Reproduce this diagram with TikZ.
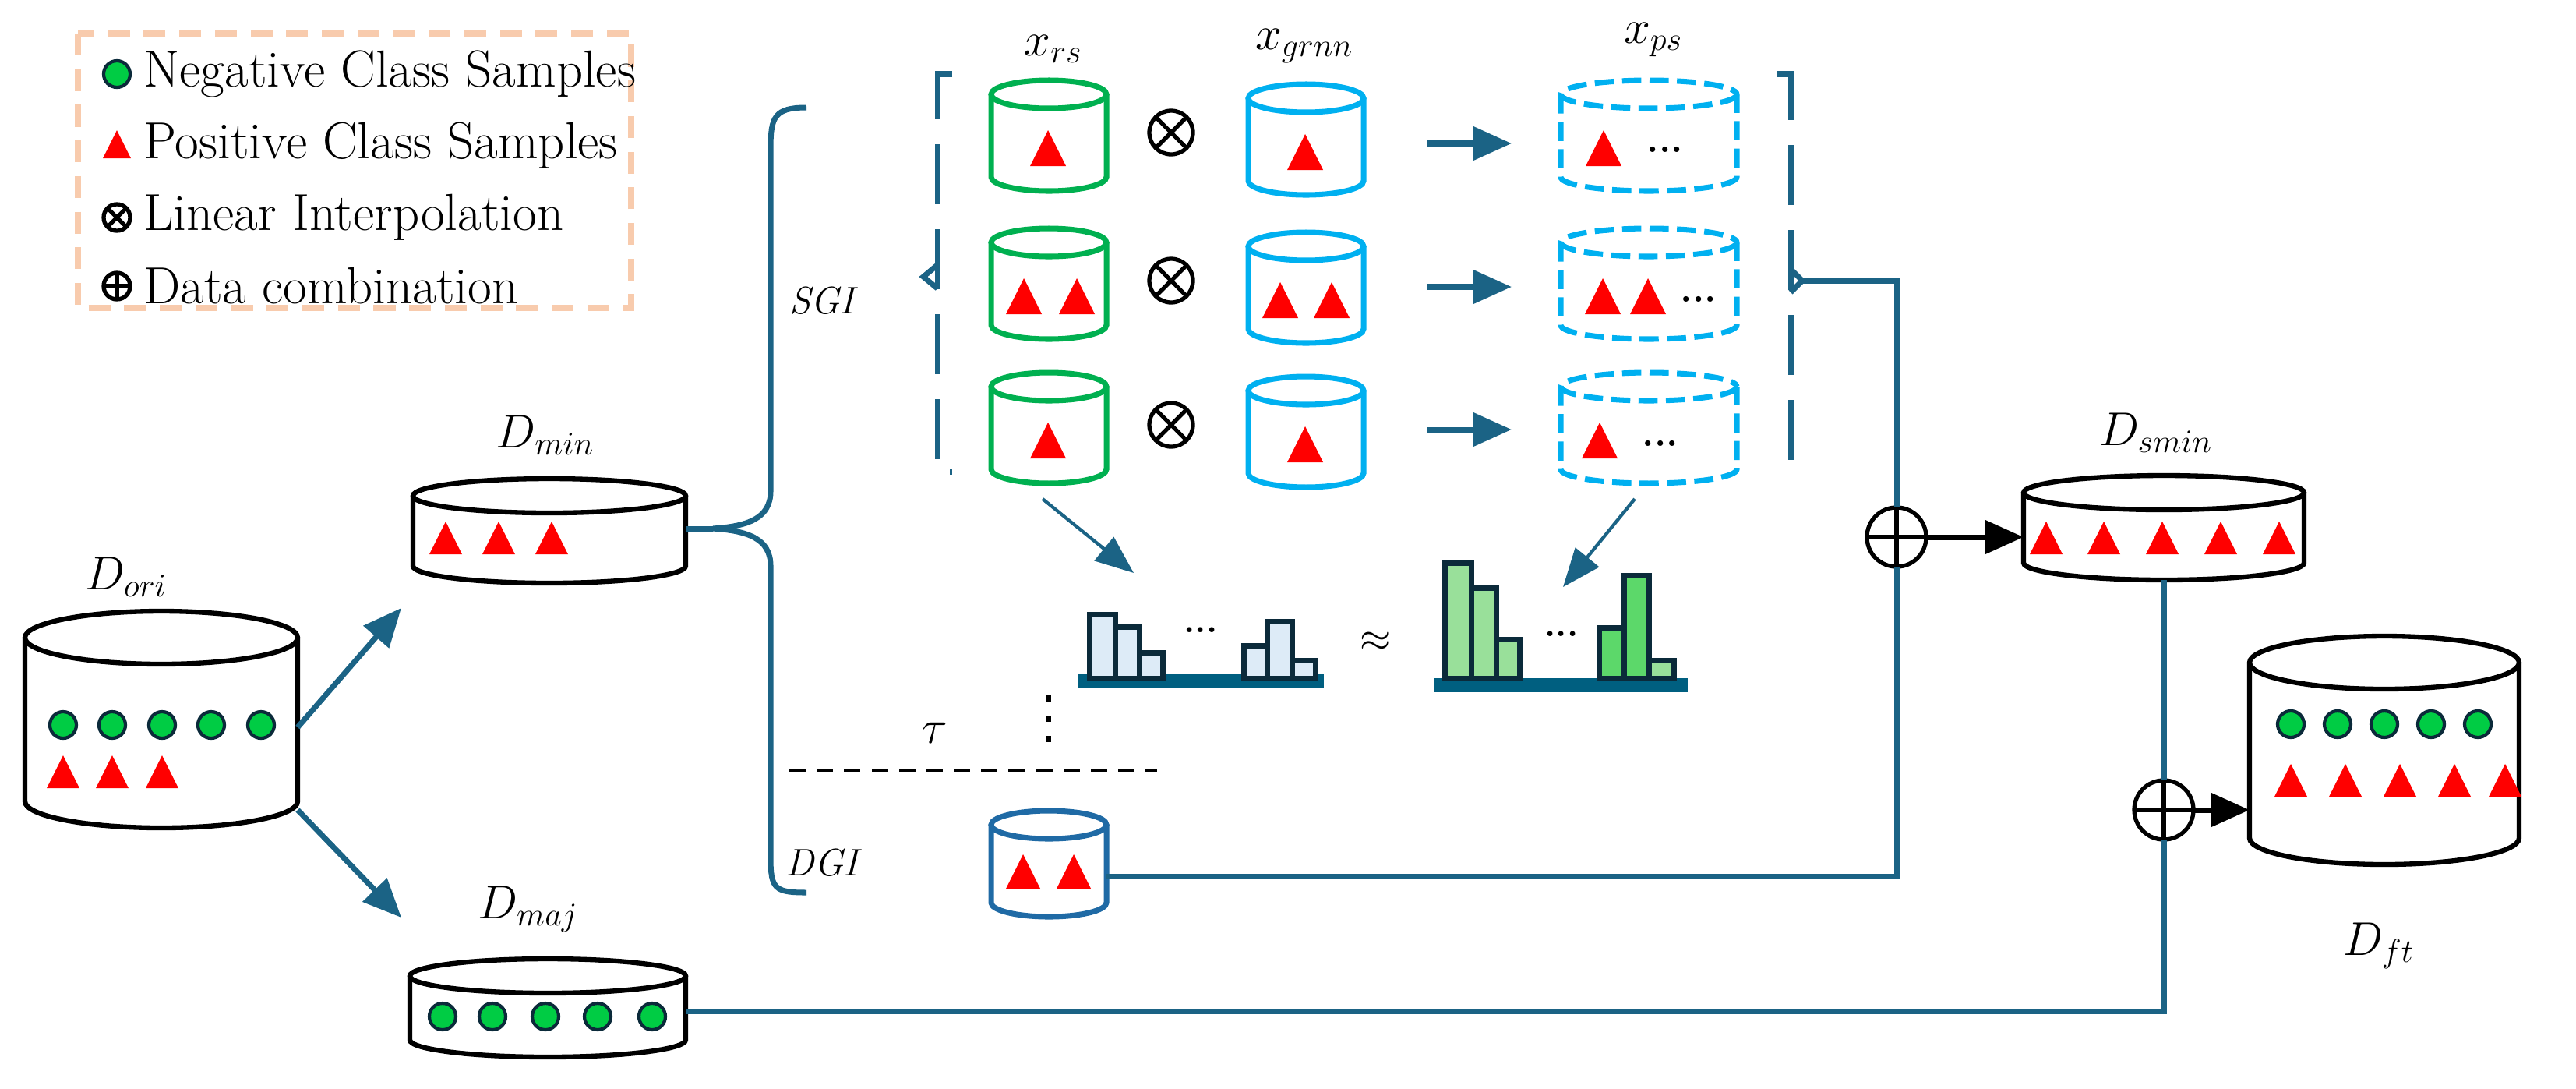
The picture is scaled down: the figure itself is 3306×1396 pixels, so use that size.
\documentclass[tikz,border=0pt]{standalone}
\usetikzlibrary{arrows.meta}
\definecolor{teal1}{HTML}{1B6385}
\definecolor{cgreen}{HTML}{00B050}
\definecolor{cblue}{HTML}{00B0F0}
\definecolor{cdgi}{HTML}{1F6AA5}
\definecolor{dot}{HTML}{00CC44}
\definecolor{dk}{HTML}{0B2A3A}
\definecolor{lb}{HTML}{DDEBF7}
\definecolor{lg}{HTML}{99E09A}
\definecolor{mg}{HTML}{5CD86A}
\definecolor{base}{HTML}{005F80}
\definecolor{legb}{HTML}{F8CBAD}
\newcommand{\mycyl}[6]{% cx, cy(top ellipse center), rx, h, ry, style
  \draw[#6] (#1,#2) ellipse [x radius=#3, y radius=#5];
  \draw[#6] (#1-#3,#2) -- ++(0,#4) arc[start angle=180,end angle=0,x radius=#3,y radius=#5] -- ++(0,-#4);}
\newcommand{\tri}[3]{\fill[red] (#1-#3/2,#2+#3/2) -- (#1+#3/2,#2+#3/2) -- (#1,#2-#3/2) -- cycle;}
\newcommand{\dt}[2]{\filldraw[fill=dot,draw=dk,line width=1.2pt] (#1,#2) circle (17);}
\newcommand{\otim}[3]{\draw[line width=1.5pt] (#1,#2) circle (#3);
  \draw[line width=1.5pt] (#1,#2) ++(45:#3) -- ++(225:2*#3);
  \draw[line width=1.5pt] (#1,#2) ++(135:#3) -- ++(315:2*#3);}
\newcommand{\oplu}[3]{\draw[line width=1.5pt] (#1,#2) circle (#3);
  \draw[line width=1.5pt] (#1-#3,#2) -- (#1+#3,#2) (#1,#2-#3) -- (#1,#2+#3);}
\newcommand{\hbarx}[4]{\filldraw[fill=#4,draw=dk,line width=2pt] (#1,#3) rectangle (#2,870);}
\tikzset{conn/.style={teal1,line width=2pt},
  arr/.style={conn,-{Triangle[length=14pt,width=12pt]}},
  thinarr/.style={teal1,line width=1.2pt,-{Triangle[length=14pt,width=11pt]}},
  lab/.style={font=\fontsize{17}{19}\selectfont},
  leg/.style={anchor=west,font=\fontsize{19}{21}\selectfont},
  cylk/.style={line width=1.8pt,black},
  dbr/.style={teal1,line width=2pt,dash pattern=on 22pt off 9pt}}
\begin{document}
\begin{tikzpicture}[x=0.01cm,y=-0.01cm]
\useasboundingbox (0,0) rectangle (3306,1396);
% legend
\draw[legb,line width=2pt,dash pattern=on 8pt off 5pt] (100,43) rectangle (810,395);
\dt{150}{95}
\node[leg] (l1) at (172,95) {Negative Class Samples};
\tri{150}{185}{36}
\node[leg] (l2) at (172,187) {Positive Class Samples};
\otim{150}{279}{17}
\node[leg] (l3) at (172,279) {Linear Interpolation};
\oplu{150}{367}{17}
\node[leg] (l4) at (172,367) {Data combination};
% D_ori
\mycyl{207}{818}{175}{210}{34}{cylk}
\node[lab] (dori) at (162,740) {$D_{ori}$};
\dt{81}{930}\dt{144}{930}\dt{208}{930}\dt{271}{930}\dt{335}{930}
\tri{81}{990}{42}\tri{144}{990}{42}\tri{208}{990}{42}
% D_min
\mycyl{705}{636}{175}{90}{22}{cylk}
\node[lab] (dmin) at (700,558) {$D_{min}$};
\tri{572}{690}{42}\tri{640}{690}{42}\tri{708}{690}{42}
% D_maj
\mycyl{703}{1252}{177}{82}{22}{cylk}
\node[lab] (dmaj) at (678,1166) {$D_{maj}$};
\dt{568}{1304}\dt{632}{1304}\dt{700}{1304}\dt{767}{1304}\dt{837}{1304}
\coordinate (o1) at (382,933); \coordinate (o2) at (382,1039);
\coordinate (m1) at (515,780); \coordinate (m2) at (515,1177);
\draw[arr] (o1) -- (m1);
\draw[arr] (o2) -- (m2);
% big brace
\draw[conn] (1035,138) .. controls (994,138) and (989,150) .. (989,190) -- (989,630)
  .. controls (989,665) and (960,675) .. (915,678)
  .. controls (960,681) and (989,691) .. (989,726) -- (989,1100)
  .. controls (989,1140) and (994,1145) .. (1035,1145);
\draw[conn] (880,678) -- (915,678);
\node[font=\itshape\fontsize{14}{16}\selectfont] (sgi) at (1055,386) {SGI};
\node[font=\itshape\fontsize{14}{16}\selectfont] (dgi) at (1055,1107) {DGI};
% dashed brackets
\draw[dbr] (1222,95) -- (1203,95) -- (1203,605) -- (1222,605);
\draw[conn] (1203,340) -- (1185,355) -- (1203,370);
\draw[dbr] (2280,95) -- (2298,95) -- (2298,605) -- (2280,605);
\draw[conn] (2298,345) -- (2313,360) -- (2298,375);
% labels
\node[lab] (xrs) at (1352,63) {$x_{rs}$};
\node[lab] (xgr) at (1674,59) {$x_{grnn}$};
\node[lab] (xps) at (2122,51) {$x_{ps}$};
% rows
\foreach \dy/\ay in {0/184,190/368,375/551}{
  \mycyl{1346}{121+\dy}{74}{106}{18}{cgreen,line width=2pt}
  \mycyl{1676}{126+\dy}{74}{106}{18}{cblue,line width=2pt}
  \mycyl{2116}{121+\dy}{113}{106}{18}{cblue,line width=2pt,dash pattern=on 7pt off 3pt}
  \otim{1503}{170+\dy}{28}
  \draw[arr] (1831,\ay) -- (1940,\ay);
}
\tri{1345}{190}{46}\tri{1675}{195}{46}\tri{2058}{190}{46}
\node[font=\bfseries\fontsize{14}{14}\selectfont] (e1) at (2137,192) {...};
\tri{1314}{380}{46}\tri{1382}{380}{46}\tri{1643}{385}{46}\tri{1709}{385}{46}
\tri{2057}{380}{46}\tri{2115}{380}{46}
\node[font=\bfseries\fontsize{14}{14}\selectfont] (e2) at (2180,384) {...};
\tri{1345}{565}{46}\tri{1675}{570}{46}\tri{2053}{565}{46}
\node[font=\bfseries\fontsize{14}{14}\selectfont] (e3) at (2131,569) {...};
% histograms
\fill[base] (1383,865) rectangle (1699,882);
\hbarx{1398}{1431}{788}{lb}\hbarx{1431}{1462}{804}{lb}\hbarx{1462}{1492}{837}{lb}
\hbarx{1596}{1626}{828}{lb}\hbarx{1626}{1658}{797}{lb}\hbarx{1658}{1688}{847}{lb}
\node[font=\bfseries\fontsize{13}{13}\selectfont] (h1) at (1541,808) {...};
\node[font=\fontsize{15}{17}\selectfont] (apx) at (1765,823) {$\approx$};
\fill[base] (1840,870) rectangle (2166,888);
\hbarx{1854}{1888}{722}{lg}\hbarx{1888}{1920}{754}{lg}\hbarx{1920}{1950}{820}{lg}
\hbarx{2052}{2084}{805}{mg}\hbarx{2084}{2116}{738}{mg}\hbarx{2116}{2148}{847}{lg}
\node[font=\bfseries\fontsize{13}{13}\selectfont] (h2) at (2004,813) {...};
\coordinate (t1) at (1338,640); \coordinate (t2) at (1455,735);
\coordinate (t3) at (2098,640); \coordinate (t4) at (2006,753);
\draw[thinarr] (t1) -- (t2);
\draw[thinarr] (t3) -- (t4);
% tau, dots, dashed line
\node[font=\fontsize{16}{18}\selectfont] (tau) at (1200,940) {$\tau$};
\foreach \yy in {892,918,944}{\fill (1343,\yy) rectangle (1349,\yy+8);}
\draw[line width=1.3pt,dash pattern=on 6pt off 4pt] (1013,988) -- (1485,988);
% DGI cylinder
\mycyl{1346}{1058}{74}{100}{18}{cdgi,line width=2pt}
\tri{1313}{1118}{44}\tri{1378}{1118}{44}
% right part
\coordinate (bt) at (2313,360);
\coordinate (dg) at (1420,1124);
\oplu{2434}{689}{38}
\coordinate (pj) at (2434,1124);
\draw[conn] (bt) -- (2434,360) -- (2434,651);
\draw[conn] (dg) -- (pj) -- (2434,727);
\draw[-{Triangle[length=14pt,width=12pt]},line width=2pt] (2472,689) -- (2597,689);
\mycyl{2777}{632}{180}{90}{22}{cylk}
\node[lab] (dsmin) at (2767,555) {$D_{smin}$};
\tri{2626}{690}{42}\tri{2700}{690}{42}\tri{2775}{690}{42}\tri{2850}{690}{42}\tri{2925}{690}{42}
\oplu{2777}{1039}{38}
\draw[conn] (2777,744) -- (2777,1001);
\draw[conn] (880,1297) -- (2777,1297) -- (2777,1077);
\draw[-{Triangle[length=14pt,width=12pt]},line width=2pt] (2815,1039) -- (2887,1039);
\mycyl{3060}{850}{173}{225}{34}{cylk}
\node[lab] (dft) at (3053,1213) {$D_{ft}$};
\dt{2940}{929}\dt{3000}{929}\dt{3060}{929}\dt{3120}{929}\dt{3180}{929}
\tri{2940}{1001}{42}\tri{3010}{1001}{42}\tri{3080}{1001}{42}\tri{3150}{1001}{42}\tri{3215}{1001}{42}
\end{tikzpicture}
\end{document}
